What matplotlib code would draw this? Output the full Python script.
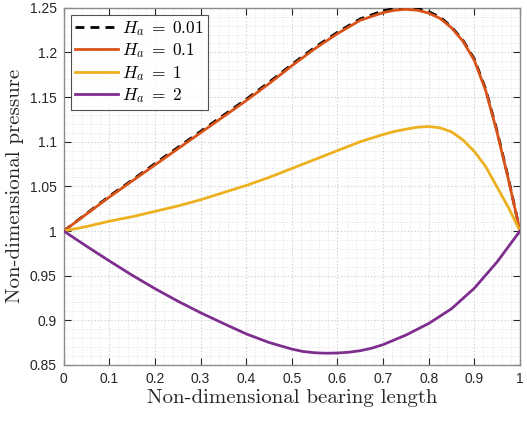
import matplotlib
matplotlib.use("Agg")
import matplotlib.pyplot as plt
from matplotlib.ticker import MultipleLocator

plt.rcParams['mathtext.fontset'] = 'cm'
plt.rcParams['font.family'] = ['Liberation Sans', 'DejaVu Sans']

# ---- data ----
x_hi = [0, .05, .1, .15, .2, .25, .3, .35, .4, .45, .5, .55, .6, .65, .7, .725, .75, .775, .8, .825, .85, .875, .9, .925, .95, .975, 1.0]
p_001 = [1.0, 1.0195, 1.039, 1.057, 1.0755, 1.0935, 1.1115, 1.1295, 1.1475, 1.1665, 1.1865, 1.2055, 1.2225, 1.2375, 1.2465, 1.2490, 1.2500, 1.2490, 1.2455, 1.2395, 1.2285, 1.2135, 1.1925, 1.1585, 1.1115, 1.058, 1.0]
p_01 = [1.0, 1.019, 1.038, 1.056, 1.074, 1.092, 1.110, 1.128, 1.146, 1.165, 1.185, 1.204, 1.221, 1.236, 1.2445, 1.2472, 1.2482, 1.2472, 1.2440, 1.2380, 1.2275, 1.2125, 1.191, 1.157, 1.110, 1.057, 1.0]
p_1 = [1.0, 1.005, 1.011, 1.016, 1.022, 1.028, 1.035, 1.043, 1.051, 1.060, 1.070, 1.080, 1.090, 1.100, 1.108, 1.1115, 1.114, 1.1162, 1.117, 1.1155, 1.111, 1.102, 1.089, 1.072, 1.049, 1.026, 1.0]
x_lo = [0, .05, .1, .15, .2, .25, .3, .35, .4, .45, .5, .525, .55, .575, .6, .625, .65, .675, .7, .75, .8, .85, .9, .95, 1.0]
p_2 = [1.0, 0.983, 0.9665, 0.9505, 0.9355, 0.9215, 0.9085, 0.8965, 0.8848, 0.8752, 0.8678, 0.8651, 0.8637, 0.8632, 0.8634, 0.8643, 0.866, 0.8688, 0.8728, 0.8835, 0.8965, 0.913, 0.936, 0.9655, 1.0]
labels = [r'$H_a\;=\;0.01$', r'$H_a\;=\;0.1$', r'$H_a\;=\;1$', r'$H_a\;=\;2$']
xticks = [0, 0.1, 0.2, 0.3, 0.4, 0.5, 0.6, 0.7, 0.8, 0.9, 1.0]
xticklabels = ['0', '0.1', '0.2', '0.3', '0.4', '0.5', '0.6', '0.7', '0.8', '0.9', '1']
yticks = [0.85, 0.9, 0.95, 1.0, 1.05, 1.1, 1.15, 1.2, 1.25]
yticklabels = ['0.85', '0.9', '0.95', '1', '1.05', '1.1', '1.15', '1.2', '1.25']

fig = plt.figure(figsize=(5.27, 4.26), dpi=100)
ax = fig.add_axes([0.1209, 0.1432, 0.8658, 0.8387])

lw = 2.0
ax.plot(x_hi, p_001, color='black', lw=lw, ls=(0, (3.2, 2.2)), label=labels[0], zorder=3)
ax.plot(x_hi, p_01, color='#D95319', lw=lw, label=labels[1], zorder=4)
ax.plot(x_hi, p_1, color='#EDB120', lw=lw, label=labels[2], zorder=4)
ax.plot(x_lo, p_2, color='#7E2F8E', lw=lw, label=labels[3], zorder=4)

ax.set_xlim(0, 1)
ax.set_ylim(0.85, 1.25)
ax.set_xticks(xticks)
ax.set_xticklabels(xticklabels)
ax.set_yticks(yticks)
ax.set_yticklabels(yticklabels)
ax.xaxis.set_minor_locator(MultipleLocator(0.02))
ax.yaxis.set_minor_locator(MultipleLocator(0.01))

ax.grid(True, which='major', color='#d0d0d0', ls=(0, (1.2, 1.8)), lw=0.8)
ax.grid(True, which='minor', color='#e0e0e0', ls=(0, (1.2, 1.8)), lw=0.6)
ax.set_axisbelow(True)

ax.tick_params(which='major', direction='in', length=5, width=0.8, colors='#262626',
               top=True, right=True, labelsize=10, pad=5)
ax.tick_params(which='minor', length=0, top=True, right=True)
for s in ax.spines.values():
    s.set_color('#8c8c8c')
    s.set_linewidth(1.0)

ax.set_xlabel('Non-dimensional bearing length', family='cmr10', fontsize=15, color='#262626', labelpad=2)
ax.set_ylabel('Non-dimensional pressure', family='cmr10', fontsize=15, color='#262626', labelpad=4)

leg = ax.legend(loc='upper left', fontsize=12.5, frameon=True, fancybox=False,
                edgecolor='#262626', handlelength=2.5, handletextpad=0.2,
                borderpad=0.25, labelspacing=0.2, borderaxespad=0.4)
leg.get_frame().set_linewidth(0.8)

fig.savefig('out.png', dpi=100)
